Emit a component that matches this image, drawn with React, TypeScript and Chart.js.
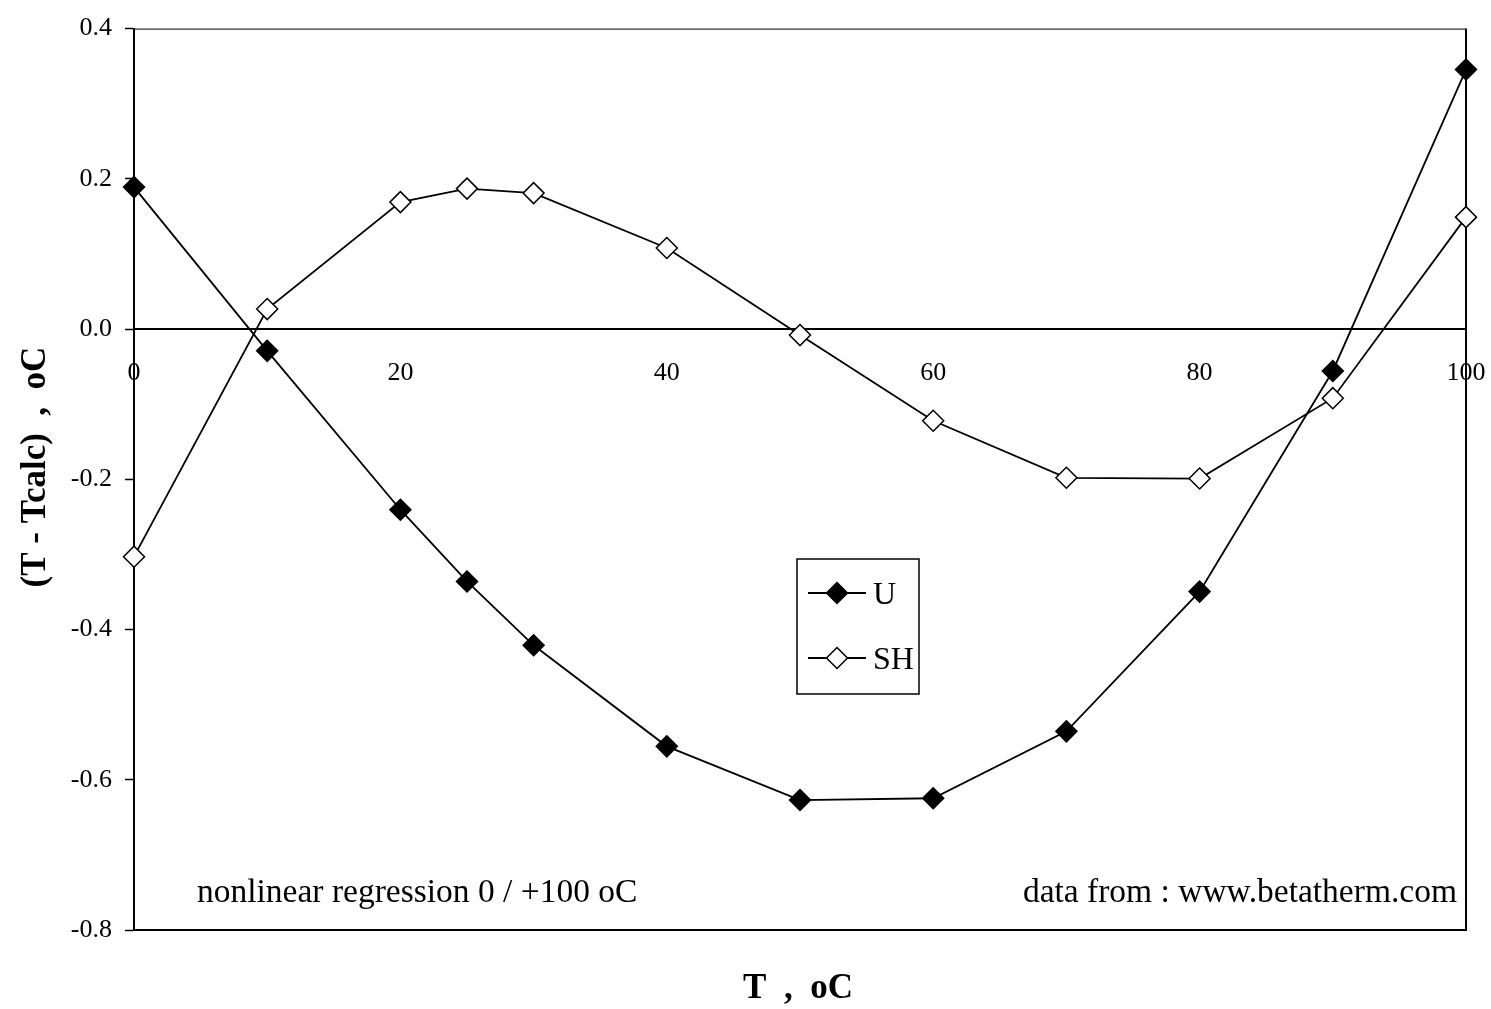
import React, { useEffect, useRef } from "react";
import { Chart, registerables } from "chart.js";

Chart.register(...registerables);

// ---- data ----
const temps = [0, 10, 20, 25, 30, 40, 50, 60, 70, 80, 90, 100];
const uValues = [0.189, -0.029, -0.2405, -0.336, -0.421, -0.5555, -0.627, -0.6246, -0.5355, -0.3495, -0.0558, 0.3455];
const shValues = [-0.303, 0.0266, 0.169, 0.187, 0.181, 0.108, -0.008, -0.122, -0.198, -0.199, -0.092, 0.149];
const seriesNames = ["U", "SH"];
const xTickValues = [0, 20, 40, 60, 80, 100];
const yMin = -0.8;
const yMax = 0.4;
const yStep = 0.2;
const xTitle = "T  ,  oC";
const yTitle = "(T - Tcalc)  ,  oC";
const noteLeft = "nonlinear regression 0 / +100 oC";
const noteRight = "data from : www.betatherm.com";

const FONT = "'Liberation Serif', 'Times New Roman', serif";

function diamond(ctx: CanvasRenderingContext2D, x: number, y: number, r: number, fill: string) {
  ctx.beginPath();
  ctx.moveTo(x, y - r);
  ctx.lineTo(x + r, y);
  ctx.lineTo(x, y + r);
  ctx.lineTo(x - r, y);
  ctx.closePath();
  ctx.fillStyle = fill;
  ctx.fill();
  ctx.lineWidth = 1.5;
  ctx.strokeStyle = "#000";
  ctx.stroke();
}

const decorPlugin = {
  id: "decor",
  beforeDatasetsDraw(chart: any) {
    const ctx: CanvasRenderingContext2D = chart.ctx;
    const { left, right, top, bottom } = chart.chartArea;
    const xs = chart.scales.x;
    const ys = chart.scales.y;
    ctx.save();
    ctx.strokeStyle = "#000";
    // plot border
    ctx.lineWidth = 1;
    ctx.beginPath();
    ctx.moveTo(left, top + 0.5);
    ctx.lineTo(right, top + 0.5);
    ctx.stroke();
    ctx.lineWidth = 2;
    ctx.beginPath();
    ctx.moveTo(right, top);
    ctx.lineTo(right, bottom);
    ctx.lineTo(left, bottom);
    ctx.stroke();
    // x axis at y = 0
    const y0 = ys.getPixelForValue(0);
    ctx.lineWidth = 2;
    ctx.beginPath();
    ctx.moveTo(left, y0);
    ctx.lineTo(right, y0);
    ctx.stroke();
    // x tick labels
    ctx.fillStyle = "#000";
    ctx.font = `26px ${FONT}`;
    ctx.textAlign = "center";
    ctx.textBaseline = "alphabetic";
    xTickValues.forEach((v) => {
      ctx.fillText(String(v), xs.getPixelForValue(v), y0 + 51);
    });
    ctx.restore();
  },
  afterDraw(chart: any) {
    const ctx: CanvasRenderingContext2D = chart.ctx;
    const { left, right } = chart.chartArea;
    ctx.save();
    ctx.fillStyle = "#000";
    // axis titles
    ctx.font = `bold 35px ${FONT}`;
    ctx.textAlign = "center";
    ctx.textBaseline = "alphabetic";
    ctx.fillText(xTitle, (left + right) / 2 - 2, 998);
    ctx.save();
    ctx.translate(45, 467);
    ctx.rotate(-Math.PI / 2);
    ctx.fillText(yTitle, 0, 0);
    ctx.restore();
    // annotations
    ctx.font = `33.5px ${FONT}`;
    ctx.textAlign = "left";
    ctx.fillText(noteLeft, left + 63, 902);
    ctx.textAlign = "right";
    ctx.fillText(noteRight, right - 9, 902);
    // legend
    const lx = 797, ly = 559, lw = 122, lh = 135;
    ctx.fillStyle = "#fff";
    ctx.fillRect(lx, ly, lw, lh);
    ctx.lineWidth = 1.5;
    ctx.strokeStyle = "#000";
    ctx.strokeRect(lx, ly, lw, lh);
    const rows = [593, 658];
    const fills = ["#000", "#fff"];
    seriesNames.forEach((name, i) => {
      const ry = rows[i];
      ctx.lineWidth = 1.8;
      ctx.beginPath();
      ctx.moveTo(808, ry);
      ctx.lineTo(866, ry);
      ctx.stroke();
      diamond(ctx, 837, ry, 10.5, fills[i]);
      ctx.fillStyle = "#000";
      ctx.font = `32px ${FONT}`;
      ctx.textAlign = "left";
      ctx.fillText(name, 873, ry + 11);
    });
    ctx.restore();
  },
};

export default function App() {
  const ref = useRef<HTMLCanvasElement | null>(null);

  useEffect(() => {
    document.body.style.margin = "0";
    const canvas = ref.current;
    if (!canvas) return;
    const common = {
      showLine: true,
      borderColor: "#000",
      borderWidth: 1.8,
      pointStyle: "rectRot",
      pointRadius: 10.5,
      pointHoverRadius: 10.5,
      pointBorderColor: "#000",
      pointBorderWidth: 1.5,
      tension: 0,
      clip: false,
    };
    const chart = new Chart(canvas, {
      type: "scatter",
      data: {
        datasets: [
          {
            ...common,
            label: seriesNames[0],
            data: temps.map((t, i) => ({ x: t, y: uValues[i] })),
            pointBackgroundColor: "#000",
          } as any,
          {
            ...common,
            label: seriesNames[1],
            data: temps.map((t, i) => ({ x: t, y: shValues[i] })),
            pointBackgroundColor: "#fff",
          } as any,
        ],
      },
      options: {
        responsive: false,
        animation: false,
        events: [],
        layout: { padding: { left: 0, top: 27, right: 25, bottom: 79 } },
        plugins: {
          legend: { display: false },
          tooltip: { enabled: false },
          title: { display: false },
        },
        scales: {
          x: {
            type: "linear",
            min: 0,
            max: 100,
            display: false,
          },
          y: {
            type: "linear",
            min: yMin,
            max: yMax,
            ticks: {
              stepSize: yStep,
              color: "#000",
              font: { family: FONT, size: 26 },
              padding: 13,
              callback: (v: any) => Number(v).toFixed(1),
            },
            grid: {
              drawOnChartArea: false,
              drawTicks: true,
              tickLength: 9,
              tickColor: "#000",
              tickWidth: 1.5,
            },
            border: { display: true, color: "#000", width: 2 },
            afterFit: (scale: any) => {
              scale.width = 134;
            },
          },
        },
      },
      plugins: [decorPlugin],
    });
    return () => chart.destroy();
  }, []);

  return (
    <div style={{ position: "fixed", left: 0, top: 0, width: 1491, height: 1009, background: "#fff" }}>
      <canvas ref={ref} width={1491} height={1009} />
    </div>
  );
}
